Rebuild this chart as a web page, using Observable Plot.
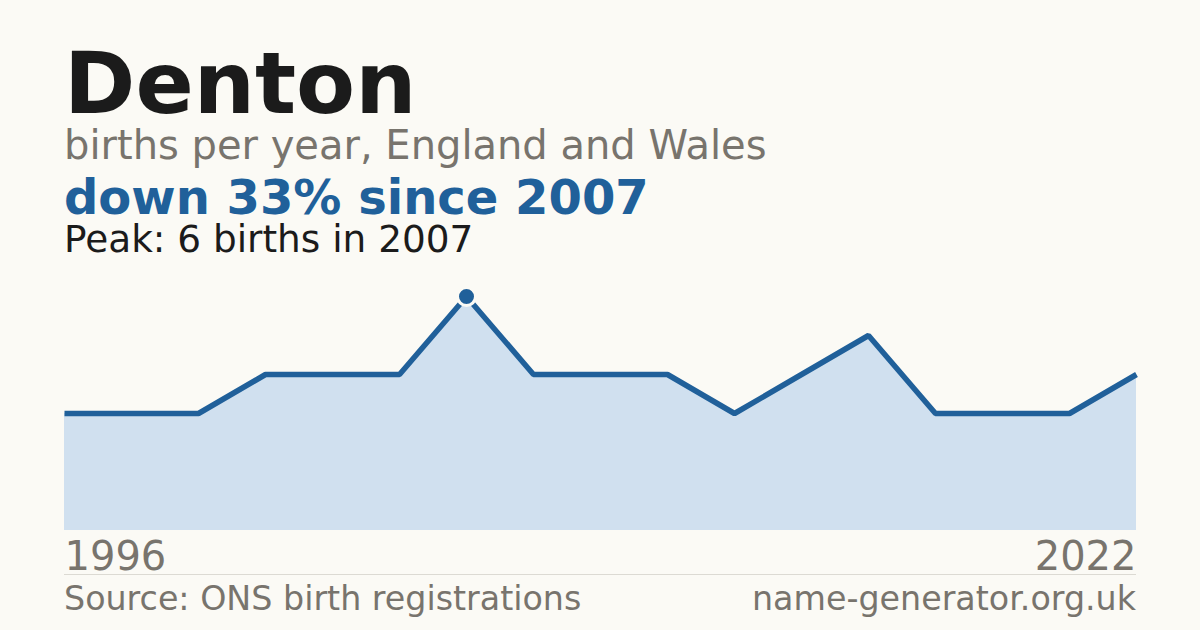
<!DOCTYPE html>
<html>
<head>
<meta charset="utf-8">
<script src="https://cdn.jsdelivr.net/npm/d3@7"></script>
<script src="https://cdn.jsdelivr.net/npm/@observablehq/plot@0.6"></script>
<style>
  html, body { margin: 0; padding: 0; background: #fbfaf5; }
  body { width: 1200px; height: 630px; position: relative; overflow: hidden; font-family: "DejaVu Sans", sans-serif; }
  .t { position: absolute; left: 64px; line-height: 0.9; white-space: nowrap; }
  #chart { position: absolute; left: 0; top: 0; }
</style>
</head>
<body>
<div id="chart"></div>
<div class="t" style="top:44.8px;font-size:86px;font-weight:bold;color:#1b1b1b;">Denton</div>
<div class="t" style="top:126.5px;font-size:40px;color:#78746d;">births per year, England and Wales</div>
<div class="t" style="top:176.1px;font-size:48px;font-weight:bold;color:#20609a;">down 33% since 2007</div>
<div class="t" style="top:222.9px;font-size:37.4px;color:#1b1b1b;">Peak: 6 births in 2007</div>
<div class="t" style="top:583.5px;font-size:33.3px;color:#78746d;">Source: ONS birth registrations</div>
<div class="t" style="top:583.5px;left:auto;right:64px;font-size:33.3px;color:#78746d;">name-generator.org.uk</div>
<script>
// Years with recorded births (x is positioned by record index)
const years  = [1996, 1997, 1999, 2000, 2002, 2004, 2007, 2008, 2010, 2012, 2013, 2015, 2017, 2018, 2019, 2021, 2022];
const births = [3, 3, 3, 4, 4, 4, 6, 4, 4, 4, 3, 4, 5, 3, 3, 3, 4];
const endLabels = ["1996", "2022"];

const data = years.map((y, i) => ({i, year: y, births: births[i]}));
const peakIdx = births.indexOf(d3.max(births));
const last = data.length - 1;

const plot = Plot.plot({
  width: 1200,
  height: 630,
  marginLeft: 64,
  marginRight: 64,
  marginTop: 296,
  marginBottom: 100,
  style: {background: "transparent", fontFamily: "DejaVu Sans, sans-serif"},
  x: {domain: [0, last], axis: null},
  y: {domain: [0, d3.max(births)], axis: null},
  marks: [
    Plot.areaY(data, {x: "i", y: "births", fill: "#d0e0ef"}),
    Plot.lineY(data, {x: "i", y: "births", stroke: "#20609a", strokeWidth: 5.5, strokeLinejoin: "miter", strokeLinecap: "butt"}),
    Plot.dot([data[peakIdx]], {x: "i", y: "births", r: 9, fill: "#20609a", stroke: "#fbfaf5", strokeWidth: 3}),
    Plot.ruleY([0], {stroke: "#dcdad3", strokeWidth: 1, dy: 44}),
    Plot.text([{i: 0, label: endLabels[0]}], {x: "i", frameAnchor: "bottom", text: "label", textAnchor: "start", lineAnchor: "top", dy: 11, fontSize: 40, fill: "#78746d"}),
    Plot.text([{i: last, label: endLabels[1]}], {x: "i", frameAnchor: "bottom", text: "label", textAnchor: "end", lineAnchor: "top", dy: 11, fontSize: 40, fill: "#78746d"})
  ]
});
document.getElementById("chart").appendChild(plot);
</script>
</body>
</html>
